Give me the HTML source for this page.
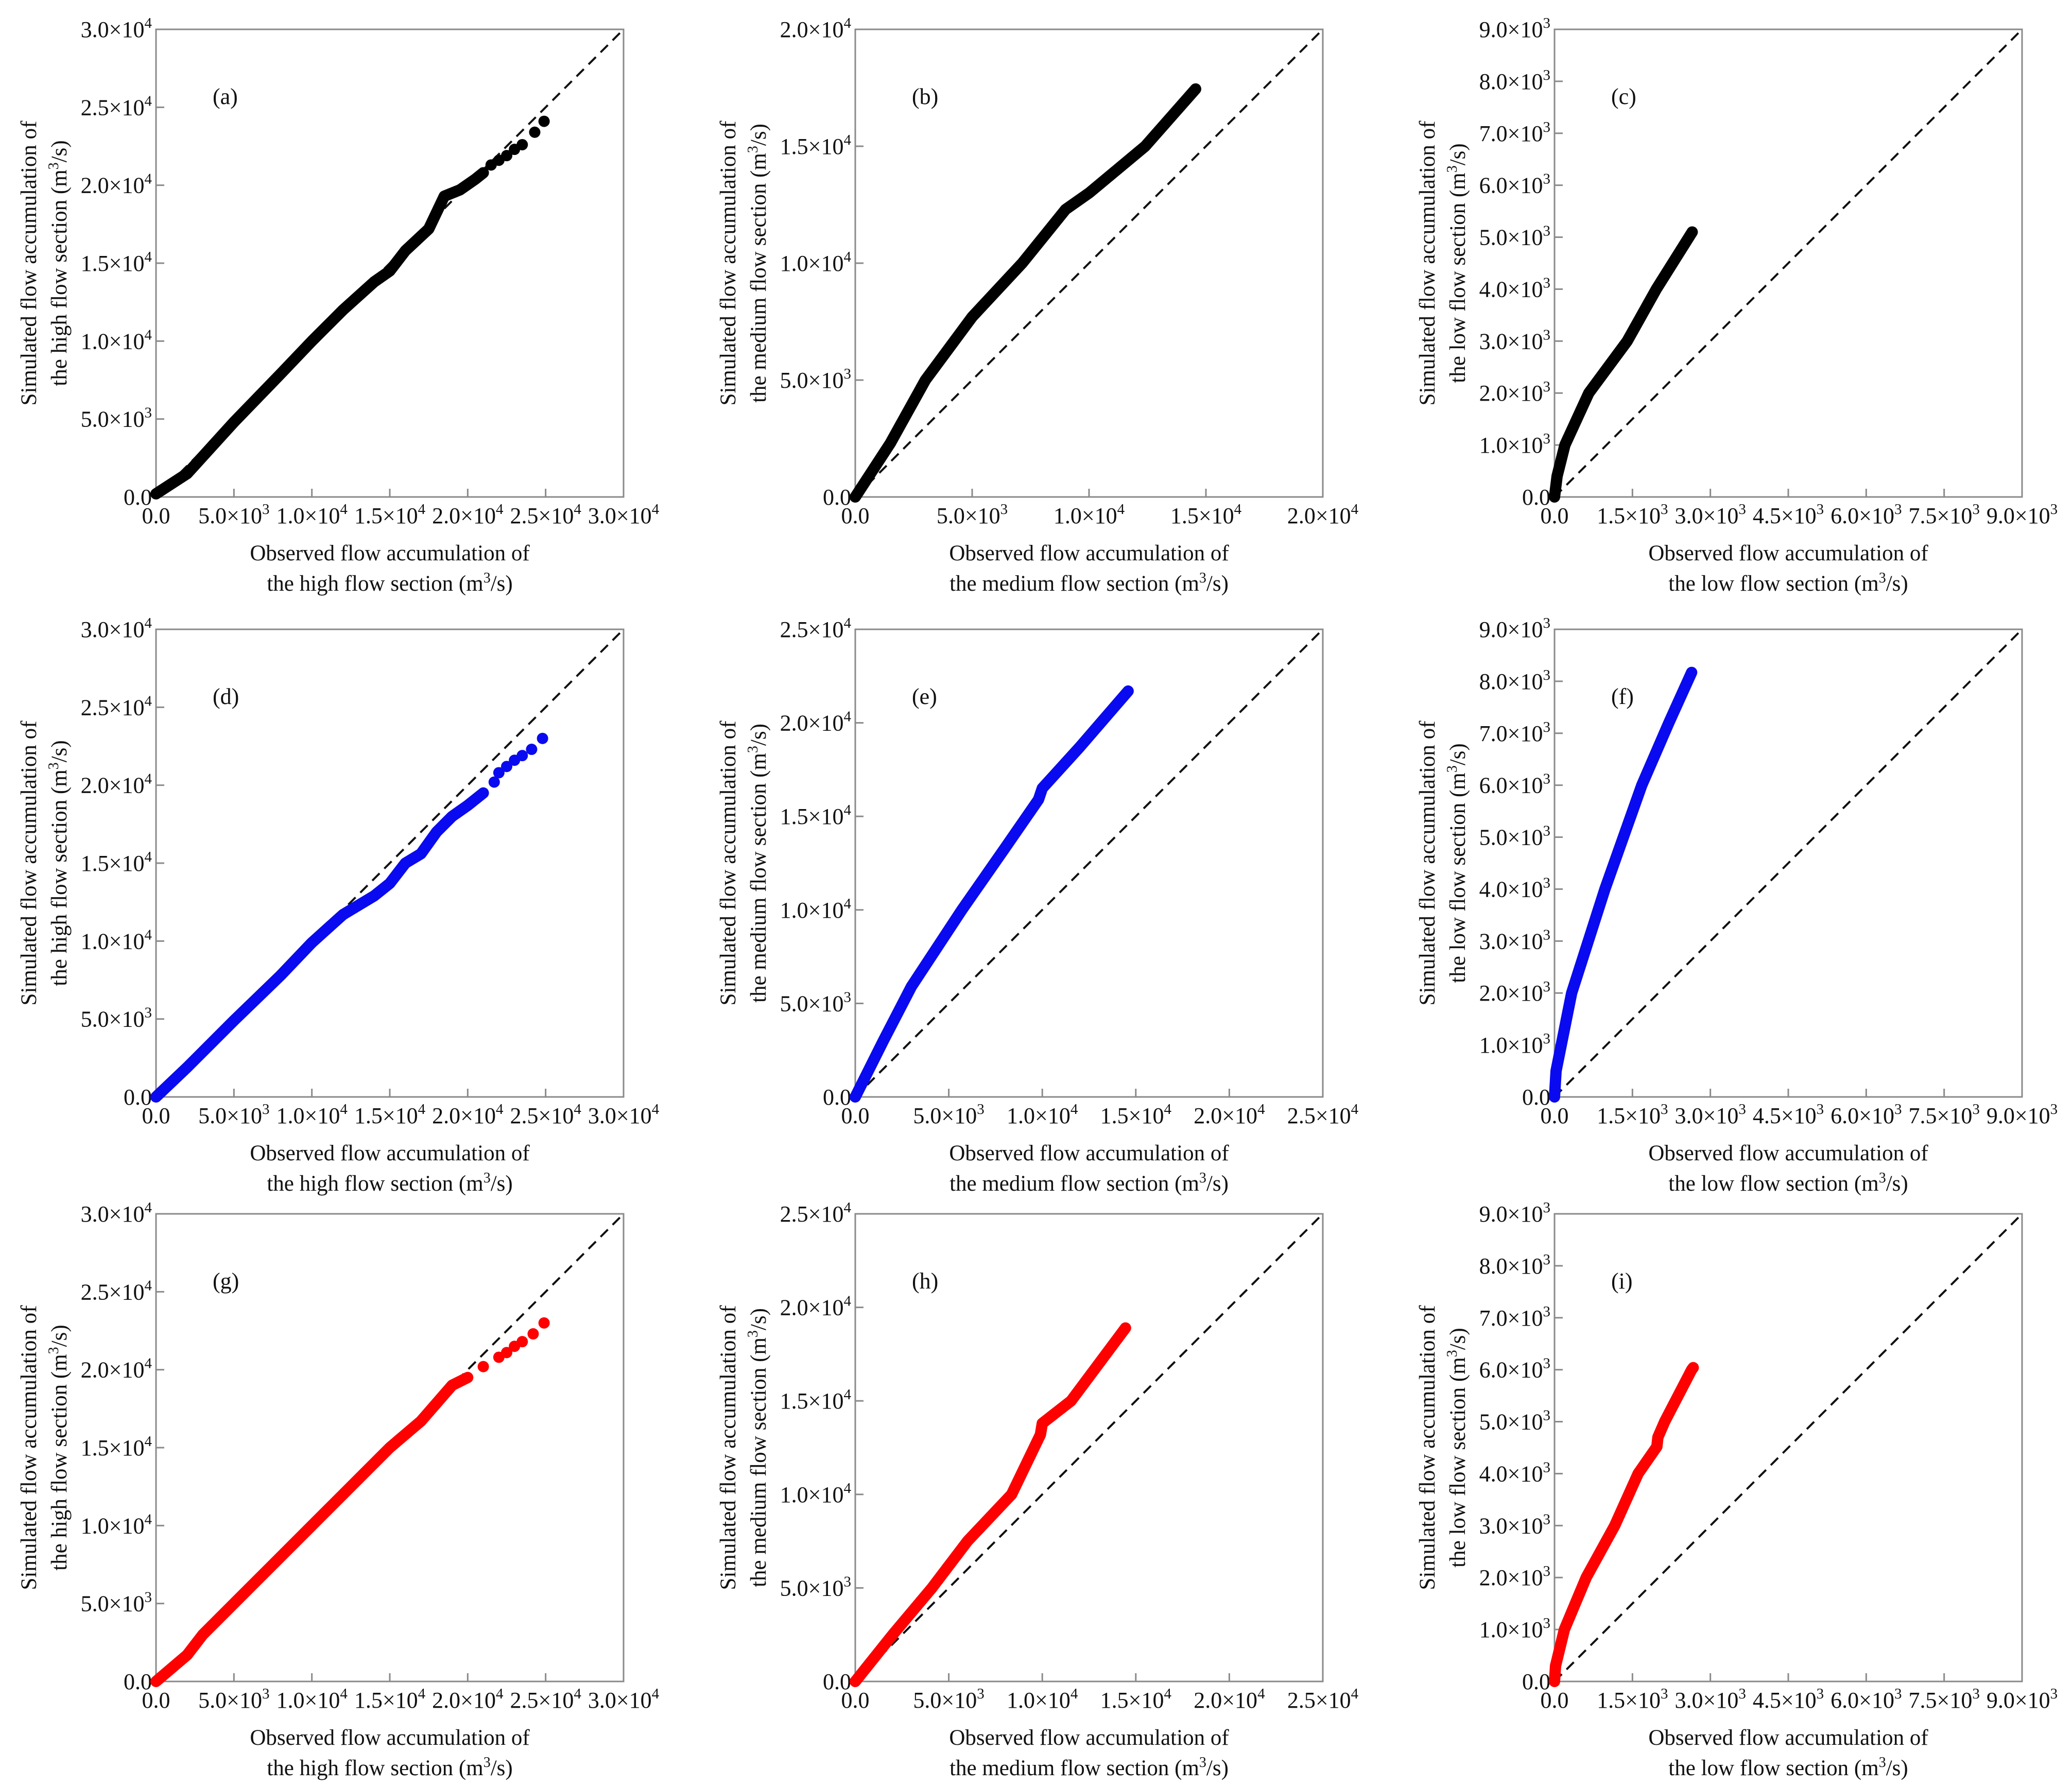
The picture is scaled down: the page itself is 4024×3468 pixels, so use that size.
<!DOCTYPE html>
<html><head><meta charset="utf-8"><style>
html,body{margin:0;padding:0;background:#fff;}
svg{display:block;font-family:"Liberation Serif",serif;}
</style></head><body>
<svg id="fig" width="4024" height="3468" viewBox="0 0 4024 3468" xmlns="http://www.w3.org/2000/svg"></svg>
<script>
// ---- data (observed, simulated), m3/s ----
const aObs=[0,2000,5000,8000,10000,12000,14000,15000,16000,17500,18500,19500,20500,21000,21500,22000,22500,23000,23500,24300,24900];
const aSim=[200,1500,4800,7900,10000,12000,13800,14500,15800,17200,19300,19700,20400,20800,21300,21600,21900,22300,22600,23400,24100];
const bObs=[0,1500,3000,5000,7140,9000,10000,12400,14560];
const bSim=[0,2300,5000,7700,10000,12300,13000,15000,17450];
const cObs=[0,50,200,660,1400,1960,2650];
const cSim=[0,400,1000,2000,3000,4000,5100];
const dObs=[0,2000,5000,8000,10000,12000,14000,15000,16000,17000,18000,19000,20000,21000,21700,22000,22500,23000,23500,24100,24800];
const dSim=[0,1900,4900,7800,9900,11700,12900,13700,15000,15600,17000,18000,18700,19500,20200,20800,21200,21600,21900,22300,23000];
const eObs=[0,1500,3000,5700,8000,9800,10000,12000,14590];
const eSim=[0,3000,5900,10000,13300,15900,16500,18700,21700];
const fObs=[0,30,330,970,1680,2200,2640];
const fSim=[0,500,2000,4000,6000,7200,8170];
const gObs=[0,2000,3000,5000,10000,15000,17000,19000,20000,21000,22000,22500,23000,23500,24200,24900];
const gSim=[0,1700,3000,5000,10000,15000,16700,19000,19500,20200,20800,21100,21500,21800,22300,23000];
const hObs=[0,2000,4100,6000,8360,9900,10000,11540,14450];
const hSim=[0,2500,5000,7500,10000,13200,13800,15000,18900];
const iObs=[0,20,190,610,1160,1610,1970,1990,2120,2640,2670];
const iSim=[0,300,1000,2000,3000,4000,4520,4700,5000,6000,6040];
// tick labels
const highTicks=["0.0","5.0×10|3","1.0×10|4","1.5×10|4","2.0×10|4","2.5×10|4","3.0×10|4"];
const med20Ticks=["0.0","5.0×10|3","1.0×10|4","1.5×10|4","2.0×10|4"];
const med25Ticks=["0.0","5.0×10|3","1.0×10|4","1.5×10|4","2.0×10|4","2.5×10|4"];
const lowXTicks=["0.0","1.5×10|3","3.0×10|3","4.5×10|3","6.0×10|3","7.5×10|3","9.0×10|3"];
const lowYTicks=["0.0","1.0×10|3","2.0×10|3","3.0×10|3","4.0×10|3","5.0×10|3","6.0×10|3","7.0×10|3","8.0×10|3","9.0×10|3"];

const NS="http://www.w3.org/2000/svg";
const svg=document.getElementById('fig');
const colX=[303,1661,3019], rowY=[57,1222,2357], W=908, H=908;
const BLACK="#000", BLUE="#0a0af0", RED="#ff0000";
const TF=44, SF=29, TT=43;
const panels=[
 {id:'a',c:0,r:0,max:30000,xt:highTicks,yt:highTicks,obs:aObs,sim:aSim,col:BLACK,dense:21000,kind:'high'},
 {id:'b',c:1,r:0,max:20000,xt:med20Ticks,yt:med20Ticks,obs:bObs,sim:bSim,col:BLACK,dense:1e9,kind:'medium'},
 {id:'c',c:2,r:0,max:9000,xt:lowXTicks,yt:lowYTicks,obs:cObs,sim:cSim,col:BLACK,dense:1e9,kind:'low'},
 {id:'d',c:0,r:1,max:30000,xt:highTicks,yt:highTicks,obs:dObs,sim:dSim,col:BLUE,dense:21000,kind:'high'},
 {id:'e',c:1,r:1,max:25000,xt:med25Ticks,yt:med25Ticks,obs:eObs,sim:eSim,col:BLUE,dense:1e9,kind:'medium'},
 {id:'f',c:2,r:1,max:9000,xt:lowXTicks,yt:lowYTicks,obs:fObs,sim:fSim,col:BLUE,dense:1e9,kind:'low'},
 {id:'g',c:0,r:2,max:30000,xt:highTicks,yt:highTicks,obs:gObs,sim:gSim,col:RED,dense:20000,kind:'high'},
 {id:'h',c:1,r:2,max:25000,xt:med25Ticks,yt:med25Ticks,obs:hObs,sim:hSim,col:RED,dense:1e9,kind:'medium'},
 {id:'i',c:2,r:2,max:9000,xt:lowXTicks,yt:lowYTicks,obs:iObs,sim:iSim,col:RED,dense:1e9,kind:'low'}
];
function mk(tag,attrs,parent){const e=document.createElementNS(NS,tag);for(const k in attrs)e.setAttribute(k,attrs[k]);(parent||svg).appendChild(e);return e;}
function labelText(g,str,x,y,anchor){
  const t=mk('text',{x:x,y:y,'font-size':TF,'text-anchor':anchor,fill:'#111'},g);
  const parts=str.split('|');
  t.appendChild(document.createTextNode(parts[0]));
  if(parts[1]){const s=mk('tspan',{dy:-18,'font-size':SF},t);s.textContent=parts[1];}
  return t;
}
panels.forEach(p=>{
  const L=colX[p.c], T=rowY[p.r];
  const g=mk('g',{});
  
  
  const sx=v=>L+v/p.max*W, sy=v=>T+H-v/p.max*H;
  const frame=mk('rect',{x:L,y:T,width:W,height:H,fill:'none',stroke:'#8a8a8a','stroke-width':3},g);
  
  
  const nx=p.xt.length-1;
  p.xt.forEach((lab,k)=>{
    const v=p.max*k/nx, x=sx(v);
    if(k>0&&k<nx) mk('line',{x1:x,y1:T+H,x2:x,y2:T+H-16,stroke:'#8a8a8a','stroke-width':3},g);
    const t=labelText(g,lab,x,T+H+51,'middle');
    
    
  });
  const ny=p.yt.length-1;
  p.yt.forEach((lab,k)=>{
    const v=p.max*k/ny, y=sy(v);
    if(k>0&&k<ny) mk('line',{x1:L,y1:y,x2:L+16,y2:y,stroke:'#8a8a8a','stroke-width':3},g);
    const t=labelText(g,lab,L-8,y+15,'end');
    
    
  });
  const d=mk('line',{x1:sx(0),y1:sy(0),x2:sx(p.max),y2:sy(p.max),stroke:'#111','stroke-width':4,'stroke-dasharray':'20 13'},g);
  
  
  const pts=[];
  p.obs.forEach((o,k)=>{ if(o<=p.dense) pts.push(sx(o).toFixed(1)+','+sy(p.sim[k]).toFixed(1)); });
  const pl=mk('polyline',{points:pts.join(' '),fill:'none',stroke:p.col,'stroke-width':22,'stroke-linecap':'round','stroke-linejoin':'round'},g);
  
  
  p.obs.forEach((o,k)=>{
    if(o>p.dense){
      const c=mk('circle',{cx:sx(o),cy:sy(p.sim[k]),r:11,fill:p.col},g);
      
      
    }
  });
  const pt=mk('text',{x:L+110,y:T+145,'font-size':44,fill:'#111'},g);
  pt.textContent='('+p.id+')';
  
  
  const xt1=mk('text',{x:L+W/2,y:T+H+123,'font-size':TT,'text-anchor':'middle',fill:'#111'},g);
  xt1.textContent='Observed flow accumulation of';
  
  
  const xt2=mk('text',{x:L+W/2,y:T+H+182,'font-size':TT,'text-anchor':'middle',fill:'#111'},g);
  xt2.innerHTML='the '+p.kind+' flow section (m<tspan dy="-16" font-size="28">3</tspan><tspan dy="16">/s)</tspan>';
  
  
  const cy=T+H/2;
  const yt1=mk('text',{x:L-233,y:cy,'font-size':TT,'text-anchor':'middle',fill:'#111',transform:'rotate(-90 '+(L-233)+' '+cy+')'},g);
  yt1.textContent='Simulated flow accumulation of';
  
  
  const yt2=mk('text',{x:L-174,y:cy,'font-size':TT,'text-anchor':'middle',fill:'#111',transform:'rotate(-90 '+(L-174)+' '+cy+')'},g);
  yt2.innerHTML='the '+p.kind+' flow section (m<tspan dy="-16" font-size="28">3</tspan><tspan dy="16">/s)</tspan>';
  
  
});
</script>
</body></html>
